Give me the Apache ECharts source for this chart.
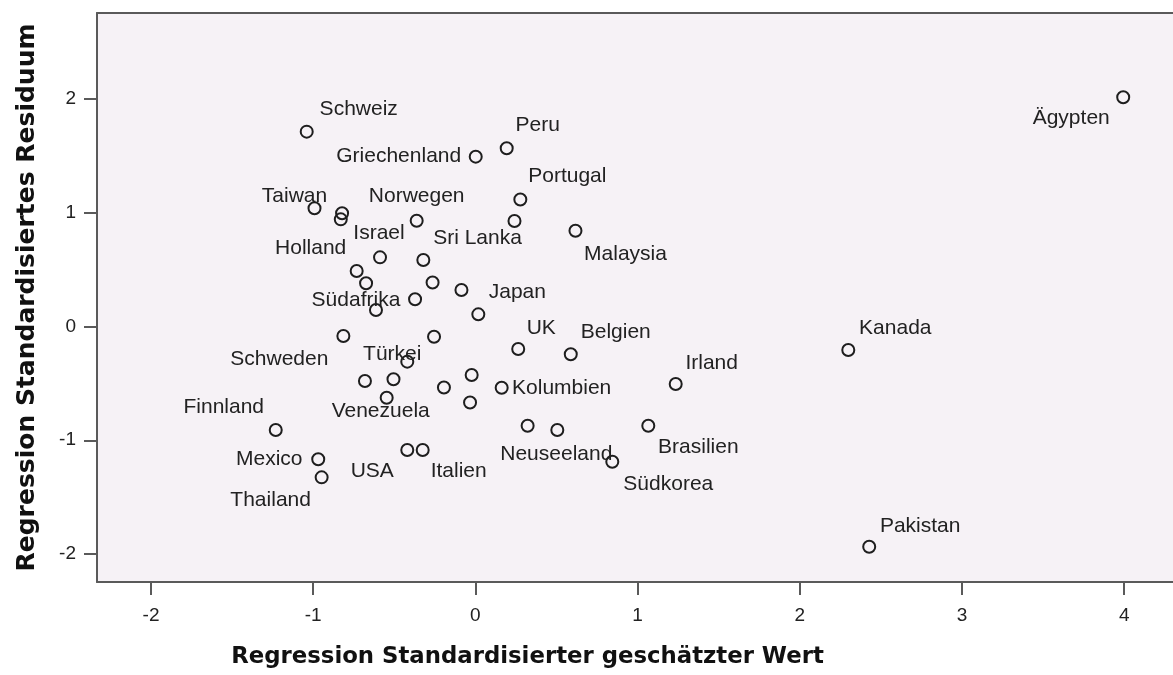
<!DOCTYPE html>
<html>
<head>
<meta charset="utf-8">
<script src="https://cdn.jsdelivr.net/npm/echarts@6/dist/echarts.min.js"></script>
<style>html,body{margin:0;padding:0;background:#fff;}#c{width:1173px;height:675px;}</style>
</head>
<body>
<div id="c"></div>
<script>
// ---- data ----
var countries = ['Schweiz','Griechenland','Peru','Portugal','Sri Lanka','Malaysia','Norwegen','Israel','Taiwan','','','Holland','','Südafrika','','','','','Japan','Schweden','','UK','Belgien','Türkei','','','Venezuela','','','','Kolumbien','Irland','','Neuseeland','Brasilien','Südkorea','USA','Italien','Finnland','Mexico','Thailand','Kanada','Pakistan','Ägypten'];
var predicted = [-1.040,0.002,0.193,0.277,0.241,0.617,-0.362,-0.588,-0.992,-0.822,-0.830,-0.732,-0.674,-0.613,-0.321,-0.264,-0.086,-0.372,0.018,-0.814,-0.255,0.264,0.588,-0.420,-0.505,-0.681,-0.547,-0.194,-0.023,-0.033,0.162,1.235,0.322,0.505,1.066,0.844,-0.420,-0.325,-1.231,-0.969,-0.948,2.299,2.428,3.994];
var residual = [1.713,1.493,1.567,1.116,0.927,0.842,0.930,0.608,1.039,0.995,0.942,0.488,0.380,0.145,0.585,0.387,0.321,0.239,0.107,-0.084,-0.090,-0.198,-0.244,-0.309,-0.464,-0.479,-0.626,-0.536,-0.426,-0.668,-0.538,-0.505,-0.872,-0.910,-0.872,-1.189,-1.086,-1.086,-0.910,-1.167,-1.326,-0.207,-1.936,2.015];
var xTicks = [-2,-1,0,1,2,3,4];
var yTicks = [-2,-1,0,1,2];
var xTitle = 'Regression Standardisierter geschätzter Wert';
var yTitle = 'Regression Standardisiertes Residuum';

// ---- label placement (style) ----
var labelOffset = {
  'Schweiz':[52,-22],'Griechenland':[-77,0],'Peru':[31,-23],'Portugal':[47,-23],'Sri Lanka':[-37,17],
  'Malaysia':[50,23],'Norwegen':[0,-25],'Israel':[-1,-24],'Taiwan':[-20,-12],'Holland':[-46,-23],
  'Südafrika':[-20,-10],'Japan':[39,-22],'Schweden':[-64,23],'UK':[23,-21],'Belgien':[45,-22],
  'Türkei':[-15,-7],'Venezuela':[-6,13],'Kolumbien':[60,0],'Irland':[36,-21],'Neuseeland':[-1,24],
  'Brasilien':[50,22],'Südkorea':[56,22],'USA':[-35,21],'Italien':[36,21],'Finnland':[-52,-23],
  'Mexico':[-49,0],'Thailand':[-51,23],'Kanada':[47,-22],'Pakistan':[51,-21],'Ägypten':[-52,21]
};

var seriesData = countries.map(function(n, i){
  var item = {value:[predicted[i], residual[i]], name:n};
  if (n) {
    item.label = {show:true, position:'inside', offset:labelOffset[n], formatter:n};
  }
  return item;
});

var chart = echarts.init(document.getElementById('c'), null, {renderer:'canvas'});
var axisColor = '#5a5a5a';
var X_MIN = -2.333, X_MAX = 4.301;
chart.setOption({
  animation:false,
  backgroundColor:'#ffffff',
  grid:{left:97, top:13, right:0, bottom:93, show:true, backgroundColor:'#f6f2f6', borderWidth:0},
  xAxis:[{type:'value', min:X_MIN, max:X_MAX, position:'bottom',
    axisLine:{show:true, onZero:false, lineStyle:{color:axisColor, width:2}}, splitLine:{show:false},
    axisTick:{show:true, length:13, lineStyle:{color:axisColor, width:2}, customValues:xTicks},
    axisLabel:{customValues:xTicks, margin:24, color:'#222', fontFamily:'Liberation Sans', fontSize:19}
  },{type:'value', min:X_MIN, max:X_MAX, position:'top',
    axisLine:{show:true, onZero:false, lineStyle:{color:axisColor, width:2}}, splitLine:{show:false},
    axisTick:{show:false}, axisLabel:{show:false}
  }],
  yAxis:{type:'value', min:-2.246, max:2.756,
    axisLine:{show:true, onZero:false, lineStyle:{color:axisColor, width:2}}, splitLine:{show:false},
    axisTick:{show:true, length:13, lineStyle:{color:axisColor, width:2}, customValues:yTicks},
    axisLabel:{customValues:yTicks, margin:21, color:'#222', fontFamily:'Liberation Sans', fontSize:19},
    name:yTitle, nameLocation:'middle', nameGap:57,
    nameTextStyle:{fontFamily:'DejaVu Sans', fontWeight:'bold', fontSize:25, color:'#111'}
  },
  graphic:[{type:'text', x:527.5, y:657, style:{text:xTitle, fill:'#111', font:'bold 22.8px "DejaVu Sans"', textAlign:'center', textVerticalAlign:'middle'}}],
  series:[{
    type:'scatter', data:seriesData, symbol:'circle', symbolSize:12, xAxisIndex:0,
    itemStyle:{color:'rgba(0,0,0,0)', borderColor:'#1e1e1e', borderWidth:2, opacity:1},
    label:{show:false, color:'#222', fontFamily:'Liberation Sans', fontSize:21},
    emphasis:{disabled:true}
  }]
});
</script>
</body>
</html>
